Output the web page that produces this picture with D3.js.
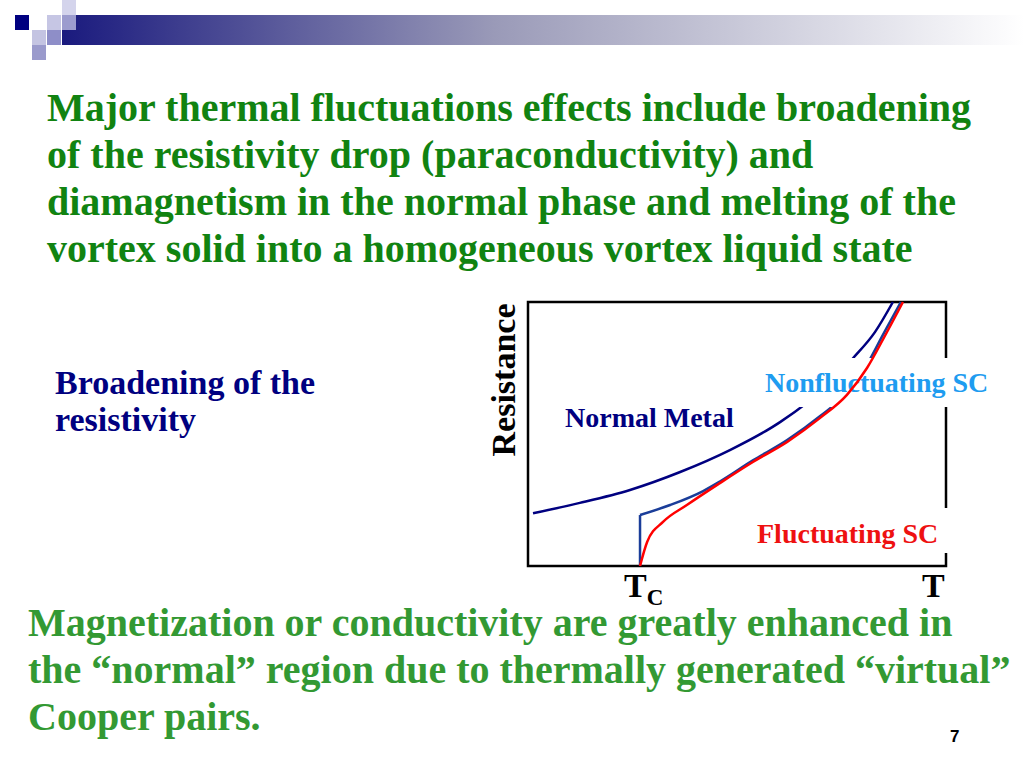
<!DOCTYPE html>
<html>
<head>
<meta charset="utf-8">
<script src="https://cdn.jsdelivr.net/npm/d3@7"></script>
<style>
  html, body { margin: 0; padding: 0; background: #fff; }
  svg { display: block; }
</style>
</head>
<body>
<svg id="slide"></svg>
<script>
// slide size
const width = 1024, height = 768;

// text content
const titleLines = [
  "Major thermal fluctuations effects include broadening",
  "of the resistivity drop (paraconductivity) and",
  "diamagnetism in the normal phase and melting of the",
  "vortex solid into a homogeneous vortex liquid state"
];
const sideLines = ["Broadening of the", "resistivity"];
const bottomLines = [
  "Magnetization or conductivity are greatly enhanced in",
  "the \u201cnormal\u201d region due to thermally generated \u201cvirtual\u201d",
  "Cooper pairs."
];

// curves, T and R in arbitrary units (0..10)
const normalMetal = [
  [0.12, 2.00], [1.24, 2.39], [2.44, 2.88], [3.64, 3.56], [4.83, 4.39],
  [6.03, 5.45], [7.22, 6.93], [7.78, 7.88], [8.30, 8.86], [8.73, 10.0]
];
const tc = 2.68;
const jumpR = 1.93;
const nonFluct = [
  [2.68, 1.93], [3.40, 2.31], [4.19, 2.84], [4.59, 3.20], [5.38, 4.00],
  [6.20, 4.77], [6.99, 5.68], [7.63, 6.56], [8.08, 7.55], [8.50, 8.78], [8.92, 10.0]
];
const fluct = [
  [2.68, 0.00], [2.85, 0.91], [3.23, 1.67], [3.80, 2.31], [4.59, 3.14],
  [5.38, 3.94], [6.20, 4.70], [6.99, 5.61], [7.63, 6.48], [8.11, 7.50],
  [8.55, 8.75], [8.97, 10.0]
];

const svg = d3.select("#slide")
    .attr("width", width)
    .attr("height", height);

// header decoration: gradient bar and small squares
const defs = svg.append("defs");
const grad = defs.append("linearGradient").attr("id", "bar");
grad.append("stop").attr("offset", "0%").attr("stop-color", "#1a1a7e");
grad.append("stop").attr("offset", "45%").attr("stop-color", "#9a9ab8");
grad.append("stop").attr("offset", "100%").attr("stop-color", "#ffffff");
svg.append("rect")
    .attr("x", 62).attr("y", 15).attr("width", 962).attr("height", 30)
    .attr("fill", "url(#bar)");

const squares = [
  { x: 15, y: 15, c: "#000080" },
  { x: 47, y: 15, c: "#c6c6e4" },
  { x: 62, y: 15, c: "#9c9cce" },
  { x: 32, y: 30, c: "#c4c4e2" },
  { x: 47, y: 30, c: "#8e8ec8" },
  { x: 32, y: 45, c: "#9a9acc" },
  { x: 62, y: 0, c: "#d4d4ec" }
];
svg.selectAll(".sq")
    .data(squares)
    .enter().append("rect")
    .attr("class", "sq")
    .attr("x", d => d.x).attr("y", d => d.y)
    .attr("width", 14).attr("height", 15)
    .attr("fill", d => d.c);

// title
svg.append("g").selectAll("text")
    .data(titleLines)
    .enter().append("text")
    .attr("x", 47)
    .attr("y", (d, i) => 121 + i * 47)
    .attr("font-family", "Liberation Serif, Times New Roman, serif")
    .attr("font-weight", "bold")
    .attr("font-size", "40px")
    .attr("fill", "#118311")
    .text(d => d);

// side label
svg.append("g").selectAll("text")
    .data(sideLines)
    .enter().append("text")
    .attr("x", 55)
    .attr("y", (d, i) => 394 + i * 37)
    .attr("font-family", "Liberation Serif, Times New Roman, serif")
    .attr("font-weight", "bold")
    .attr("font-size", "34px")
    .attr("fill", "#000080")
    .text(d => d);

// bottom text
svg.append("g").selectAll("text")
    .data(bottomLines)
    .enter().append("text")
    .attr("x", 28)
    .attr("y", (d, i) => 636 + i * 47)
    .attr("font-family", "Liberation Serif, Times New Roman, serif")
    .attr("font-weight", "bold")
    .attr("font-size", "40px")
    .attr("fill", "#339933")
    .text(d => d);

// page number
svg.append("text")
    .attr("x", 950).attr("y", 742)
    .attr("font-family", "Liberation Sans, Arial, sans-serif")
    .attr("font-weight", "bold")
    .attr("font-size", "17px")
    .attr("fill", "#000")
    .text("7");

// chart
const x = d3.scaleLinear().domain([0, 10]).range([528, 946]);
const y = d3.scaleLinear().domain([0, 10]).range([566, 302]);

const line = d3.line()
    .x(d => x(d[0]))
    .y(d => y(d[1]))
    .curve(d3.curveMonotoneX);

svg.append("rect")
    .attr("x", x(0)).attr("y", y(10))
    .attr("width", x(10) - x(0)).attr("height", y(0) - y(10))
    .attr("fill", "none")
    .attr("stroke", "#000")
    .attr("stroke-width", 2.5);

svg.append("path")
    .datum(normalMetal)
    .attr("d", line)
    .attr("fill", "none")
    .attr("stroke", "#000080")
    .attr("stroke-width", 2.5);

svg.append("line")
    .attr("x1", x(tc)).attr("x2", x(tc))
    .attr("y1", y(0)).attr("y2", y(jumpR))
    .attr("stroke", "#1a3d99")
    .attr("stroke-width", 2.5);

svg.append("path")
    .datum(nonFluct)
    .attr("d", line)
    .attr("fill", "none")
    .attr("stroke", "#1a3d99")
    .attr("stroke-width", 2.5);

// curve labels with white backgrounds
const labels = [
  { text: "Nonfluctuating SC", x: 765, y: 392, c: "#1e9cf0", box: [758, 358, 236, 49] },
  { text: "Fluctuating SC", x: 757, y: 543, c: "#ee1111", box: [750, 508, 200, 45] }
];
labels.forEach(function(l) {
    svg.append("rect")
        .attr("x", l.box[0]).attr("y", l.box[1])
        .attr("width", l.box[2]).attr("height", l.box[3])
        .attr("fill", "#fff");
    svg.append("text")
        .attr("x", l.x).attr("y", l.y)
        .attr("font-family", "Liberation Serif, Times New Roman, serif")
        .attr("font-weight", "bold")
        .attr("font-size", "28px")
        .attr("fill", l.c)
        .text(l.text);
});

svg.append("text")
    .attr("x", 565).attr("y", 427)
    .attr("font-family", "Liberation Serif, Times New Roman, serif")
    .attr("font-weight", "bold")
    .attr("font-size", "28px")
    .attr("fill", "#000080")
    .text("Normal Metal");

svg.append("path")
    .datum(fluct)
    .attr("d", line)
    .attr("fill", "none")
    .attr("stroke", "#ff0000")
    .attr("stroke-width", 2.5);

// axis titles
svg.append("text")
    .attr("transform", "translate(515,380) rotate(-90)")
    .attr("text-anchor", "middle")
    .attr("font-family", "Liberation Serif, Times New Roman, serif")
    .attr("font-weight", "bold")
    .attr("font-size", "34px")
    .attr("fill", "#000")
    .text("Resistance");

const tcLabel = svg.append("text")
    .attr("x", 624).attr("y", 597)
    .attr("font-family", "Liberation Serif, Times New Roman, serif")
    .attr("font-weight", "bold")
    .attr("font-size", "34px")
    .attr("fill", "#000");
tcLabel.append("tspan").text("T");
tcLabel.append("tspan").attr("font-size", "23px").attr("dy", 8).text("C");

svg.append("text")
    .attr("x", 922).attr("y", 597)
    .attr("font-family", "Liberation Serif, Times New Roman, serif")
    .attr("font-weight", "bold")
    .attr("font-size", "34px")
    .attr("fill", "#000")
    .text("T");
</script>
</body>
</html>
